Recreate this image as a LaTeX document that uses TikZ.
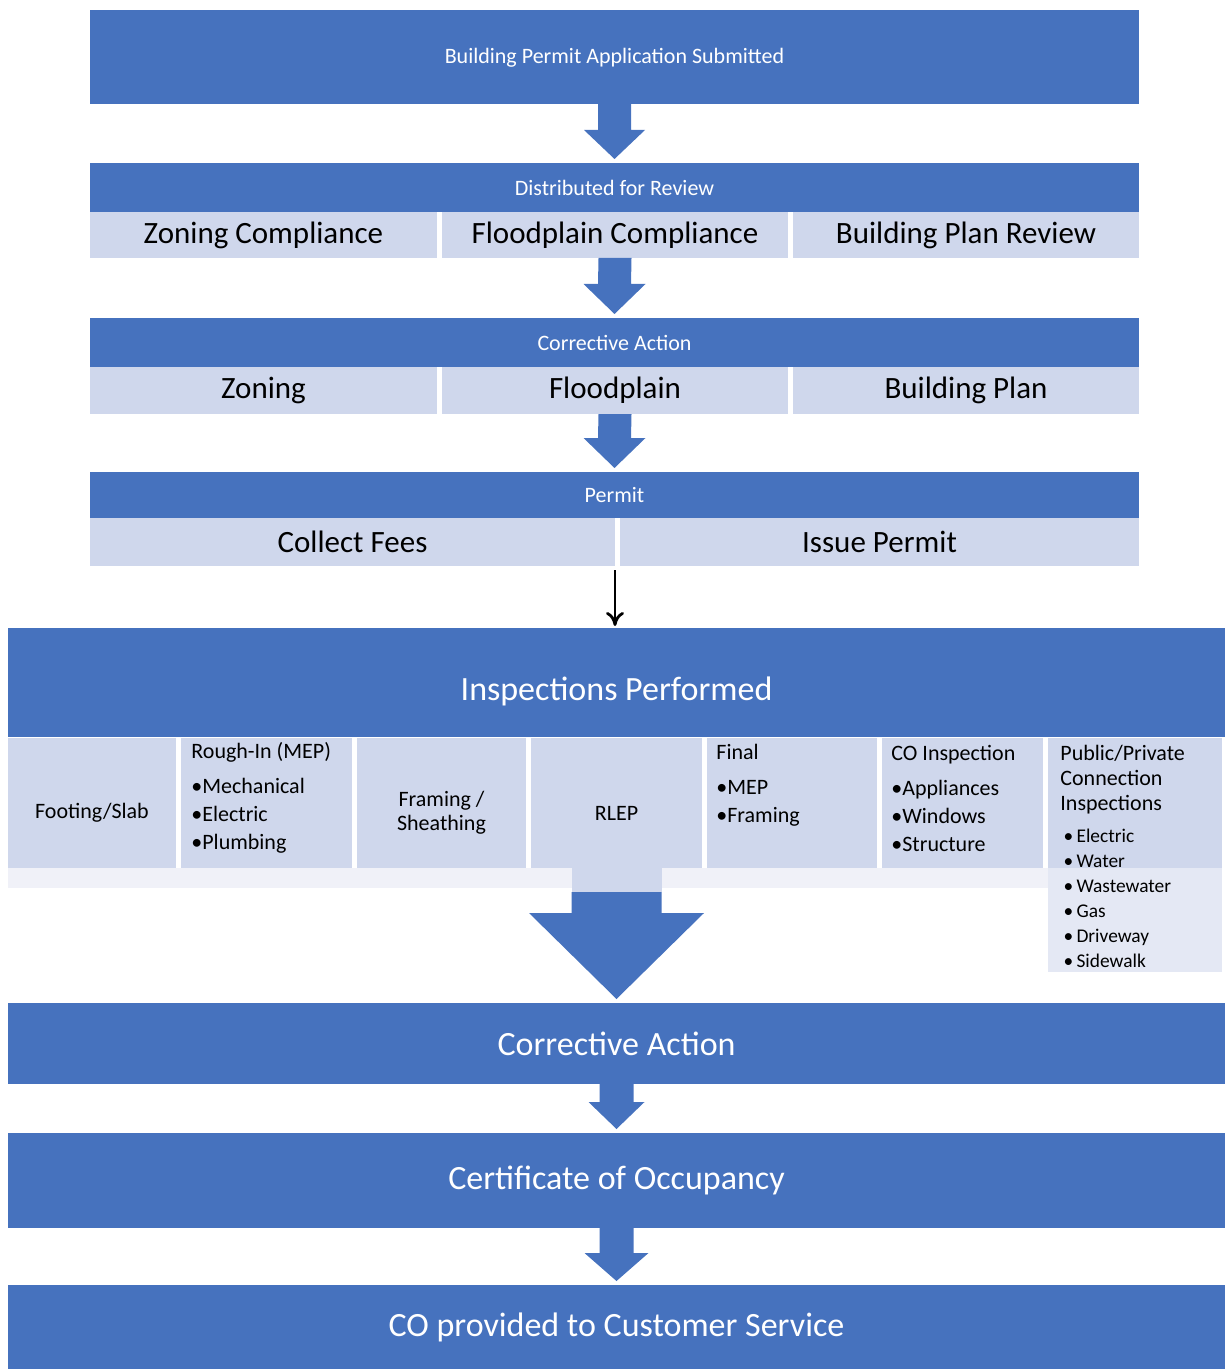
\documentclass[tikz,border=0pt]{standalone}
\usepackage{fontspec}
\setmainfont{Carlito}
\usepackage{xcolor}
\usepackage{tikz}
\usetikzlibrary{calc,arrows.meta}

\definecolor{flowblue}{RGB}{70,114,190}
\definecolor{cellblue}{RGB}{207,215,236}
\definecolor{cellfade}{RGB}{240,241,248}
\definecolor{listfade}{RGB}{228,232,244}

% block arrow: source, target, shaft half width, head half width, head length
\newcommand{\fatarrow}[5]{%
  \fill[flowblue] ($(#1)+(-#3,0)$) -- ($(#1)+(#3,0)$)
    -- ($(#2)+(#3,-#5-4)$) -- ($(#2)+(#4,-#5-4)$) -- ($(#2)+(0,-4)$)
    -- ($(#2)+(-#4,-#5-4)$) -- ($(#2)+(-#3,-#5-4)$) -- cycle;}

\begin{document}
\begin{tikzpicture}[x=0.5pt, y=-0.5pt,
    area/.style n args={4}{minimum width={(#3-#1)*0.5pt},
      minimum height={(#4-#2)*0.5pt}, at={({(#1+#3)/2},{(#2+#4)/2})}},
    bar/.style={fill=flowblue, text=white, inner sep=0pt, outer sep=0pt},
    cell/.style={fill=cellblue, text=black, inner sep=0pt, outer sep=0pt},
    hdtext/.style={font=\fontsize{11}{13}\selectfont},
    celltext/.style={font=\fontsize{15.5}{18}\selectfont},
    bartext/.style={font=\fontsize{17}{20}\selectfont},
    smalltext/.style={font=\fontsize{11}{12}\selectfont, align=center},
    listtext/.style={anchor=north west, align=left, inner sep=0pt,
      font=\fontsize{11}{14}\selectfont}
    ]
    \useasboundingbox (0,0) rectangle (1225,1369);

    % review part
    \node[bar, hdtext, text height=10pt, text depth=3pt, area={90}{10}{1139}{104}] (apply) {Building Permit Application Submitted};
    \node[bar, hdtext, area={90}{163}{1139}{212}] (dist) {Distributed for Review};
    \node[cell, celltext, area={90}{212}{437}{258}] (zonecomp) {Zoning Compliance};
    \node[cell, celltext, area={442}{212}{788}{258}] (floodcomp) {Floodplain Compliance};
    \node[cell, celltext, area={793}{212}{1139}{258}] (bldrev) {Building Plan Review};

    \node[bar, hdtext, area={90}{318}{1139}{367}] (corr) {Corrective Action};
    \node[cell, celltext, area={90}{367}{437}{414}] (zonefix) {Zoning};
    \node[cell, celltext, area={442}{367}{788}{414}] (floodfix) {Floodplain};
    \node[cell, celltext, area={793}{367}{1139}{414}] (bldfix) {Building Plan};

    \node[bar, hdtext, area={90}{472}{1139}{518}] (permit) {Permit};
    \node[cell, celltext, area={90}{518}{615}{566}] (fees) {Collect Fees};
    \node[cell, celltext, area={620}{518}{1139}{566}] (issue) {Issue Permit};

    \fatarrow{apply.south}{dist.north}{16.5}{30.5}{29}
    \fatarrow{floodcomp.south}{corr.north}{16.5}{31}{30}
    \fatarrow{floodfix.south}{permit.north}{16.5}{31}{30}

    % inspections
    \node[bar, bartext, text height=22pt, text depth=4pt, area={8}{628}{1225}{737}] (insp) {Inspections Performed};
    \draw[-{To[length=7pt,width=9pt]}, line width=1.4pt, shorten >=1pt]
      ($(fees.south east)+(0,4)$) -- (fees.south east |- insp.north);
    \node[cell, font=\fontsize{11}{13}\selectfont, area={8}{738}{176}{888}] (foot) {Footing/Slab};
    \node[cell, area={181}{738}{352}{888}] (rough) {};
    \node[cell, smalltext, area={357}{738}{526}{888}] (frame) {Framing /\\Sheathing};
    \node[cell, font=\fontsize{11}{13}\selectfont, area={531}{738}{702}{888}] (rlep) {RLEP};
    \node[cell, area={707}{738}{877}{888}] (final) {};
    \node[cell, area={882}{738}{1043}{888}] (coinsp) {};
    \node[cell, area={1048}{738}{1222}{972}] (pp) {};
    \fill[cellfade] (8,868) rectangle (1048,888);
    \fill[cellblue] (572,868) rectangle (662,892);
    \fill[listfade] (1048,868) rectangle (1222,972);

    \node[listtext] (roughlist) at ($(rough.north west)+(10,4)$)
      {Rough-In (MEP)\\[3.5pt] \textbullet Mechanical\\ \textbullet Electric\\ \textbullet Plumbing};
    \node[listtext] (finallist) at ($(final.north west)+(9,6)$)
      {Final\\[3.5pt] \textbullet MEP\\ \textbullet Framing};
    \node[listtext] (colist) at ($(coinsp.north west)+(9,7)$)
      {CO Inspection\\[3.5pt] \textbullet Appliances\\ \textbullet Windows\\ \textbullet Structure};
    \node[listtext, font=\fontsize{11}{12.5}\selectfont] (pplist) at ($(pp.north west)+(12,7)$)
      {Public/Private\\ Connection\\ Inspections\\[3.5pt]
       {\fontsize{9.7}{12.5}\selectfont\,\textbullet\,Electric}\\
       {\fontsize{9.7}{12.5}\selectfont\,\textbullet\,Water}\\
       {\fontsize{9.7}{12.5}\selectfont\,\textbullet\,Wastewater}\\
       {\fontsize{9.7}{12.5}\selectfont\,\textbullet\,Gas}\\
       {\fontsize{9.7}{12.5}\selectfont\,\textbullet\,Driveway}\\
       {\fontsize{9.7}{12.5}\selectfont\,\textbullet\,Sidewalk}};

    % closing part
    \node[bar, bartext, area={8}{1003}{1225}{1084}] (fix) {Corrective Action};
    \node[bar, bartext, area={8}{1133}{1225}{1228}] (coo) {Certificate of Occupancy};
    \node[bar, bartext, area={8}{1285}{1225}{1369}] (cust) {CO provided to Customer Service};

    \coordinate (bigtop) at ($(rlep.south)+(0,4)$);
    \fatarrow{bigtop}{fix.north}{45}{87.5}{86}
    \fatarrow{fix.south}{coo.north}{17}{28}{27}
    \fatarrow{coo.south}{cust.north}{17}{32}{28}
  \end{tikzpicture}
\end{document}
